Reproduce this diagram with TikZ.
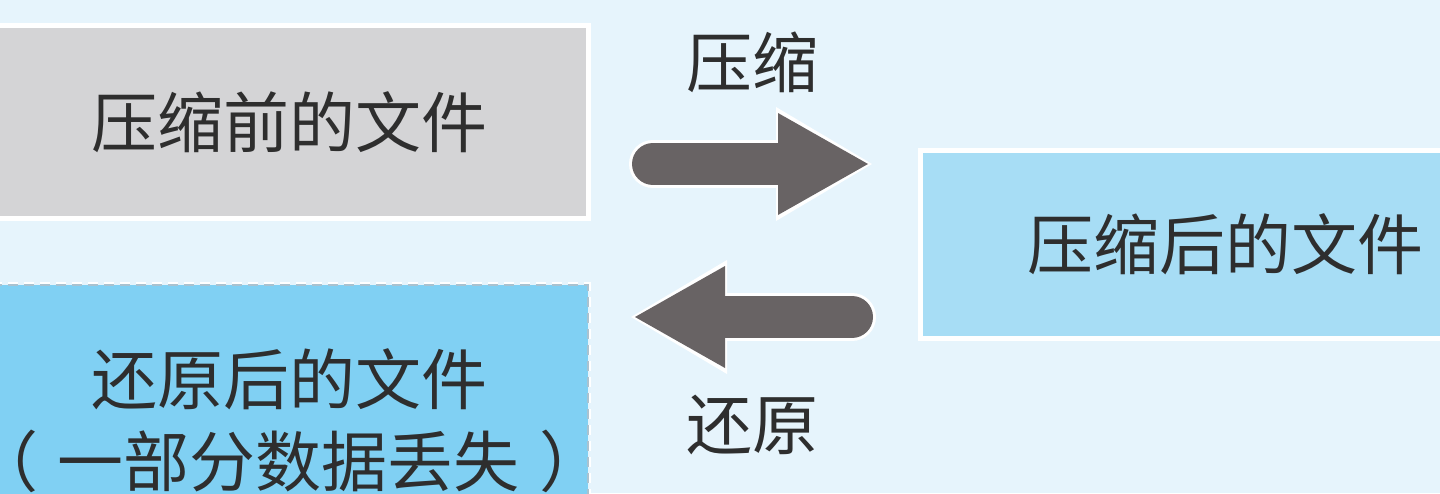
\documentclass[tikz,border=0pt]{standalone}
\usepackage{fontspec}
\newfontfamily\cjk{Noto Sans CJK SC}
\usetikzlibrary{arrows.meta}
\definecolor{bgcol}{HTML}{E6F4FC}
\definecolor{graybox}{HTML}{D4D4D6}
\definecolor{lightblue}{HTML}{A7DDF5}
\definecolor{midblue}{HTML}{80D0F3}
\definecolor{arrowgray}{HTML}{686364}
\definecolor{txt}{HTML}{2E2E2E}
\definecolor{dashcol}{HTML}{A9C2D0}
\tikzset{
  boxtext/.style={inner sep=0pt, font=\cjk\fontsize{33pt}{41pt}\selectfont, text=txt, align=center},
  filebox/.style={boxtext, draw=white, line width=2.5pt},
  lostbox/.style={boxtext, fill=midblue, preaction={draw=white, line width=3pt}, draw=dashcol, line width=1.2pt, dash pattern=on 5pt off 3pt},
  lbl/.style={inner sep=0pt, font=\cjk\fontsize{33pt}{41pt}\selectfont, text=txt},
  arrowrim/.style={draw=white, line width=24pt, line cap=round, shorten >=-2pt, -{Triangle[length=48pt, width=57pt, line width=0pt]}},
  bigarrow/.style={draw=arrowgray, line width=21pt, line cap=round, -{Triangle[length=45pt, width=51pt, line width=0pt]}}
}
\begin{document}
\begin{tikzpicture}[x=0.5pt,y=-0.5pt]
\useasboundingbox (0,0) rectangle (1440,493);
\clip (0,0) rectangle (1440,493);
\fill[bgcol] (0,0) rectangle (1440,493);
\node[filebox, fill=graybox, minimum width=299pt, minimum height=96.5pt] (before) at (289,122) {压缩前的文件};
\node[filebox, fill=lightblue, minimum width=305pt, minimum height=94pt] (after) at (1225,244) {压缩后的文件};
\node[lostbox, minimum width=299pt, minimum height=136pt] (restored) at (289,421) {还原后的文件\\\makebox[0pt][c]{（\hspace{0.3em}一部分数据丢失\hspace{0.3em}）}};
\node[lbl] (lcomp) at (752,62) {压缩};
\node[lbl] (lrest) at (752,425) {还原};
\coordinate (r1) at (653,164);
\coordinate (r2) at (868,164);
\coordinate (l1) at (852,317);
\coordinate (l2) at (635,317);
\draw[arrowrim] (r1) -- (r2);
\draw[bigarrow] (r1) -- (r2);
\draw[arrowrim] (l1) -- (l2);
\draw[bigarrow] (l1) -- (l2);
\end{tikzpicture}
\end{document}
